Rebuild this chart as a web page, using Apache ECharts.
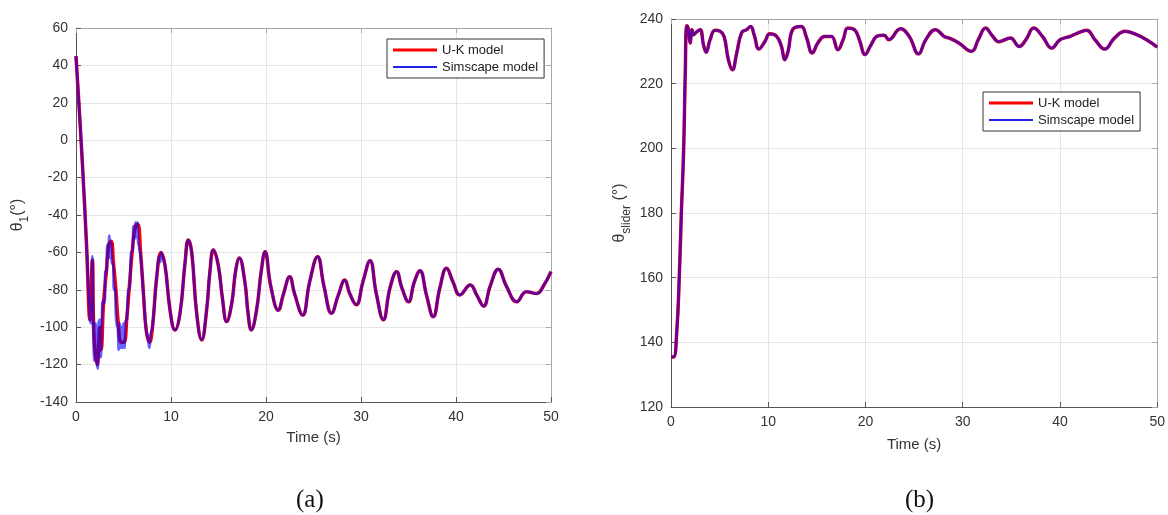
<!DOCTYPE html>
<html>
<head>
<meta charset="utf-8">
<script src="https://cdn.jsdelivr.net/npm/echarts@6/dist/echarts.min.js"></script>
<style>
html,body{margin:0;padding:0;background:#fff;}
#chart{width:1168px;height:515px;}
</style>
</head>
<body>
<div id="chart"></div>
<script>
// ---------- DATA ----------
var seriesNames = ['U-K model', 'Simscape model'];
var xTicks = [0, 10, 20, 30, 40, 50];
var leftYTicks = [-140, -120, -100, -80, -60, -40, -20, 0, 20, 40, 60];
var rightYTicks = [120, 140, 160, 180, 200, 220, 240];

// (a) theta_1 — U-K model, early transient
var aUkEarlyT = [0, 0.3, 0.7, 1.1, 1.47, 1.72, 1.9, 2.25, 2.5, 2.65, 2.9, 3.2, 3.45, 3.7, 3.95, 4.2, 4.45, 4.75, 5.05, 5.35, 5.65, 5.95, 6.25, 6.5, 6.8, 7.1, 7.4, 7.75, 8.05, 8.5, 8.95];
var aUkEarlyV = [45, 20, -15, -55, -96, -64, -105, -120, -100, -112, -87, -70, -56, -54, -66, -80, -98, -108, -108, -95, -76, -58, -46, -45, -60, -82, -102, -108, -100, -73, -60];
// (a) theta_1 — Simscape model, early transient
var aSimEarlyT = [0, 0.3, 0.7, 1.1, 1.47, 1.6, 1.72, 1.82, 1.93, 2.05, 2.15, 2.28, 2.38, 2.5, 2.6, 2.72, 2.85, 3.0, 3.1, 3.2, 3.3, 3.4, 3.5, 3.6, 3.7, 3.8, 3.9, 4.0, 4.1, 4.2, 4.3, 4.4, 4.5, 4.6, 4.7, 4.8, 4.9, 5.0, 5.1, 5.2, 5.35, 5.5, 5.65, 5.8, 5.95, 6.05, 6.15, 6.25, 6.35, 6.45, 6.55, 6.65, 6.8, 7.1, 7.4, 7.6, 7.72, 7.85, 8.05, 8.5, 8.8, 8.9, 8.95];
var aSimEarlyV = [45, 20, -15, -55, -96, -98, -62, -100, -118, -98, -116, -122, -98, -96, -116, -97, -86, -87, -70, -71, -56, -63, -51, -63, -55, -66, -66, -80, -79, -93, -99, -100, -112, -98, -111, -100, -111, -98, -111, -97, -96, -80, -79, -60, -59, -46, -53, -44, -52, -44, -55, -57, -62, -82, -102, -106, -111, -104, -100, -73, -62, -65, -60];
// (a) theta_1 — both models, after t = 9 s
var aTailT = [9.37, 9.9, 10.42, 10.95, 11.47, 11.82, 12.18, 12.7, 13.23, 13.75, 14.1, 14.46, 14.98, 15.4, 15.86, 16.4, 16.8, 17.19, 17.78, 18.1, 18.45, 19.0, 19.5, 19.9, 20.5, 21.3, 21.8, 22.5, 23.0, 23.86, 24.6, 25.43, 26.1, 26.9, 27.6, 28.3, 28.8, 29.5, 30.2, 30.95, 31.6, 32.35, 33.05, 33.75, 34.3, 35.0, 35.6, 36.2, 36.9, 37.6, 38.3, 39.0, 39.7, 40.4, 41.5, 42.2, 42.9, 43.6, 44.45, 45.3, 46.4, 47.4, 48.5, 49.2, 50];
var aTailV = [-67, -91, -101.5, -92.5, -66, -53.4, -60, -92.5, -106.8, -90.8, -70, -58.7, -67, -84, -97, -87, -70, -63, -76, -92, -101.5, -91, -70, -59.6, -78, -91, -83, -73, -82, -93.5, -75.6, -62.3, -78, -92.6, -83, -74.8, -81.8, -88, -75.8, -64.4, -81.8, -96, -79, -70.3, -79, -86.4, -76, -69.8, -83, -94.4, -79, -68.5, -76, -82.8, -77.4, -83, -88.7, -78, -69, -78, -86.4, -81, -82, -78, -70.3];

// (b) theta_slider — both models
var bT = [0, 0.27, 0.6, 0.85, 1.05, 1.3, 1.46, 1.63, 1.8, 1.97, 2.15, 2.31, 2.66, 3.0, 3.34, 3.61, 4.02, 4.53, 5.05, 5.46, 5.9, 6.31, 6.76, 7.27, 7.78, 8.19, 8.56, 9.04, 9.65, 10.16, 10.84, 11.36, 11.7, 12.04, 12.55, 13.4, 13.9, 14.53, 15.1, 15.8, 16.5, 17.16, 17.7, 18.18, 18.86, 19.37, 19.96, 20.57, 21.25, 21.9, 22.4, 23.6, 24.5, 25.45, 26.2, 27.2, 28.1, 28.6, 29.6, 30.9, 31.6, 32.35, 33.0, 33.7, 34.9, 35.8, 36.5, 37.3, 38.2, 39.15, 40.0, 41.04, 41.7, 42.74, 43.6, 44.6, 45.6, 46.7, 47.7, 48.9, 50];
var bV = [135.5, 135.5, 143.7, 160.2, 178.8, 199.5, 222.2, 237.9, 236.7, 232.6, 236.7, 235.1, 236.1, 236.7, 232, 229.7, 233.6, 236.5, 236.2, 234.6, 227.4, 224.3, 229.5, 235.8, 236.7, 237.7, 235, 230.7, 233, 235.4, 234.7, 231.5, 227.4, 230, 236.9, 237.7, 234.6, 229.5, 232.6, 234.6, 234.6, 230.5, 233.6, 237.2, 236.7, 233.6, 229, 232, 234.8, 235, 233.6, 237.0, 234.6, 229.2, 233.6, 236.7, 234.6, 234.1, 232.6, 230, 233.6, 237.2, 235, 233, 234.1, 231.5, 233.6, 237.2, 234.6, 231, 233.6, 234.6, 235.5, 236.5, 233.6, 230.7, 234.1, 236.2, 235.4, 233.6, 231.3];

// ---------- BUILD ----------
function pairs(t, v) { return t.map(function (x, i) { return [x, v[i]]; }); }
var aUk = pairs(aUkEarlyT.concat(aTailT), aUkEarlyV.concat(aTailV));
var aSim = pairs(aSimEarlyT.concat(aTailT), aSimEarlyV.concat(aTailV));
var bUk = pairs(bT, bV);
var bSim = pairs(bT, bV);

var FONT = 'Liberation Sans, Arial, sans-serif';
var AX = '#555555';
var BOX = '#a8a8a8';
var GRIDC = '#e6e6e6';

function mainX(gi, nameGap) {
  return {
    type: 'value', gridIndex: gi, min: 0, max: 50, interval: 10, position: 'bottom',
    name: 'Time (s)', nameLocation: 'middle', nameGap: nameGap,
    nameTextStyle: { fontFamily: FONT, fontSize: 15, color: '#333' },
    axisLine: { show: true, onZero: false, lineStyle: { color: AX, width: 1 } },
    axisTick: { show: true, inside: true, length: 5, lineStyle: { color: AX } },
    axisLabel: { fontFamily: FONT, fontSize: 14, color: '#333', margin: 8 },
    splitLine: { show: true, lineStyle: { color: GRIDC, width: 1 } }
  };
}
function boxX(gi) {
  return {
    type: 'value', gridIndex: gi, min: 0, max: 50, interval: 10, position: 'top',
    axisLine: { show: true, onZero: false, lineStyle: { color: BOX, width: 1 } },
    axisTick: { show: true, inside: true, length: 5, lineStyle: { color: BOX } },
    axisLabel: { show: false }, splitLine: { show: false }
  };
}
function mainY(gi, min, max, name, nameGap, rich) {
  return {
    type: 'value', gridIndex: gi, min: min, max: max, interval: 20, position: 'left',
    name: name, nameLocation: 'middle', nameGap: nameGap, nameRotate: 90,
    nameTextStyle: { fontFamily: FONT, fontSize: 16, color: '#333', rich: rich },
    axisLine: { show: true, onZero: false, lineStyle: { color: AX, width: 1 } },
    axisTick: { show: true, inside: true, length: 5, lineStyle: { color: AX } },
    axisLabel: { fontFamily: FONT, fontSize: 14, color: '#333', margin: 8 },
    splitLine: { show: true, lineStyle: { color: GRIDC, width: 1 } }
  };
}
function boxY(gi, min, max) {
  return {
    type: 'value', gridIndex: gi, min: min, max: max, interval: 20, position: 'right',
    axisLine: { show: true, onZero: false, lineStyle: { color: BOX, width: 1 } },
    axisTick: { show: true, inside: true, length: 5, lineStyle: { color: BOX } },
    axisLabel: { show: false }, splitLine: { show: false }
  };
}

var rich = {
  m: { fontFamily: FONT, fontSize: 16, color: '#333', lineHeight: 26 },
  s: { fontFamily: FONT, fontSize: 12, color: '#333', lineHeight: 12, verticalAlign: 'bottom' }
};

function lineSeries(name, data, xi, yi, isSim) {
  return {
    name: name, type: 'line', xAxisIndex: xi, yAxisIndex: yi, data: data,
    symbol: 'none', smooth: 0.45, animation: false,
    lineStyle: isSim ? { color: '#0000ff', width: 2.8, opacity: 0.6 } : { color: '#ff0000', width: 3.5 },
    itemStyle: { color: isSim ? '#0000ff' : '#ff0000' },
    z: isSim ? 3 : 2
  };
}

function legendAt(left, top) {
  return {
    data: [
      { name: seriesNames[0], icon: 'rect', itemStyle: { color: '#ff0000' } },
      { name: seriesNames[1], icon: 'path://M0,0.7H40V2.3H0Z', itemStyle: { color: '#2222ee' } }
    ],
    orient: 'vertical', left: left, top: top,
    backgroundColor: '#ffffff', borderColor: '#333', borderWidth: 1,
    padding: [4, 6, 4, 6], itemGap: 3, itemWidth: 44, itemHeight: 3,
    textStyle: { fontFamily: FONT, fontSize: 13, color: '#222', lineHeight: 14 }, selectedMode: false
  };
}

var option = {
  backgroundColor: '#ffffff',
  animation: false,
  grid: [
    { left: 76, right: 617, top: 28, bottom: 113 },
    { left: 671, right: 9, top: 19, bottom: 108 }
  ],
  xAxis: [mainX(0, 28), boxX(0), mainX(1, 30), boxX(1)],
  yAxis: [
    mainY(0, -140, 60, '{m|θ}{s|1}{m|(°)}', 45, rich), boxY(0, -140, 60),
    mainY(1, 120, 240, '{m|θ}{s|slider}{m| (°)}', 38, rich), boxY(1, 120, 240)
  ],
  legend: [legendAt(387, 39), legendAt(983, 92)],
  series: [
    lineSeries(seriesNames[0], aUk, 0, 0, false),
    lineSeries(seriesNames[1], aSim, 0, 0, true),
    lineSeries(seriesNames[0], bUk, 2, 2, false),
    lineSeries(seriesNames[1], bSim, 2, 2, true)
  ],
  graphic: [
    { type: 'text', left: 296, top: 488, style: { text: '(a)', fontFamily: 'Liberation Serif, Times New Roman, serif', fontSize: 25, fill: '#111' } },
    { type: 'text', left: 905, top: 488, style: { text: '(b)', fontFamily: 'Liberation Serif, Times New Roman, serif', fontSize: 25, fill: '#111' } }
  ]
};

var chart = echarts.init(document.getElementById('chart'), null, { renderer: 'canvas' });
chart.setOption(option);
</script>
</body>
</html>
